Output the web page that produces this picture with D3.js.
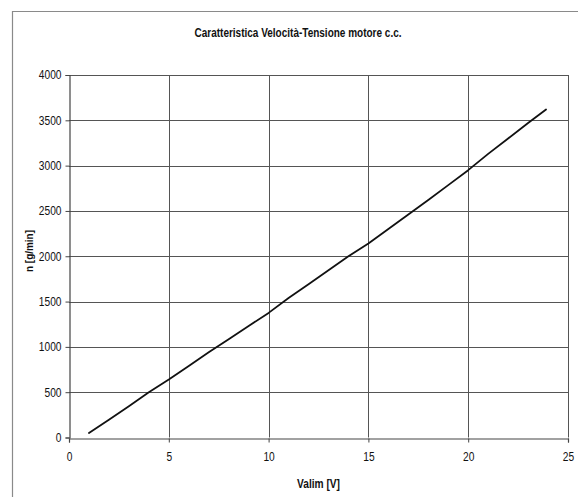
<!DOCTYPE html>
<html>
<head>
<meta charset="utf-8">
<script src="https://cdn.jsdelivr.net/npm/d3@7"></script>
<style>
  html, body { margin: 0; padding: 0; background: #fff; }
  svg { display: block; }
  text { font-family: "Liberation Sans", Arial, sans-serif; fill: #111; }
</style>
</head>
<body>
<div id="chart"></div>
<script>
// ---- data ----
const title = "Caratteristica Velocità-Tensione motore c.c.";
const xLabel = "Valim [V]";
const yLabel = "n [g/min]";
const voltage = [1, 2, 3, 4, 5, 6, 7, 8, 9, 10, 11, 12, 13, 14, 15, 16, 17, 18, 19, 20, 21, 22, 23, 23.9];
const speed   = [50, 195, 345, 500, 640, 790, 940, 1085, 1230, 1375, 1540, 1690, 1845, 2000, 2140, 2300, 2460, 2620, 2785, 2950, 3130, 3300, 3470, 3620];
const xTicks = [0, 5, 10, 15, 20, 25];
const yTicks = [0, 500, 1000, 1500, 2000, 2500, 3000, 3500, 4000];

const W = 578, H = 497;
const plot = { left: 69, right: 568, top: 75, bottom: 437.5 };

const svg = d3.select("#chart").append("svg").attr("width", W).attr("height", H);

// squeeze text horizontally (the reference font is condensed)
function squeeze(sel, factor) {
  sel.each(function () {
    const w = this.getComputedTextLength();
    this.setAttribute("textLength", (w * factor).toFixed(2));
    this.setAttribute("lengthAdjust", "spacingAndGlyphs");
  });
}

// outer chart frame
svg.append("path")
  .attr("d", `M12.5,${H + 2} L12.5,11.5 L${W + 2},11.5`)
  .attr("fill", "none").attr("stroke", "#8a8a8a").attr("stroke-width", 1.2);

const x = d3.scaleLinear().domain([0, 25]).range([plot.left, plot.right]);
const y = d3.scaleLinear().domain([0, 4000]).range([plot.bottom, plot.top]);

// gridlines
const grid = svg.append("g").attr("stroke", "#555").attr("stroke-width", 1);
grid.selectAll("line.h").data(yTicks.filter(d => d > 0)).join("line")
  .attr("x1", plot.left).attr("x2", plot.right)
  .attr("y1", d => Math.round(y(d)) + 0.5).attr("y2", d => Math.round(y(d)) + 0.5);
grid.selectAll("line.v").data(xTicks.filter(d => d > 0)).join("line")
  .attr("y1", plot.top).attr("y2", plot.bottom)
  .attr("x1", d => Math.round(x(d)) + 0.5).attr("x2", d => Math.round(x(d)) + 0.5);

// axes
const xAxis = d3.axisBottom(x).tickValues(xTicks).tickSize(4).tickPadding(10).tickFormat(d3.format("d"));
const yAxis = d3.axisLeft(y).tickValues(yTicks).tickSize(4).tickPadding(4).tickFormat(d3.format("d"));

const gx = svg.append("g").attr("transform", `translate(0,${Math.round(plot.bottom) + 0.5})`).call(xAxis);
const gy = svg.append("g").attr("transform", `translate(${Math.round(plot.left) + 0.5},0)`).call(yAxis);
[gx, gy].forEach(g => {
  g.select(".domain").attr("stroke", "#444").attr("stroke-width", 1.2);
  g.selectAll(".tick line").attr("stroke", "#444");
  g.selectAll("text").attr("font-size", 12).attr("fill", "#111")
    .attr("font-family", "'Liberation Sans', Arial, sans-serif");
  squeeze(g.selectAll("text"), 0.85);
});

// data line
const line = d3.line().x((d, i) => x(voltage[i])).y(d => y(d));
svg.append("path").datum(speed)
  .attr("d", line)
  .attr("fill", "none").attr("stroke", "#111").attr("stroke-width", 1.8)
  .attr("stroke-linejoin", "round").attr("stroke-linecap", "round");

// title and axis labels
svg.append("text").attr("x", 298).attr("y", 37)
  .attr("text-anchor", "middle").attr("font-weight", "bold").attr("font-size", 12.5)
  .attr("textLength", 207).attr("lengthAdjust", "spacingAndGlyphs")
  .text(title);
svg.append("text").attr("x", (plot.left + plot.right) / 2).attr("y", 488)
  .attr("text-anchor", "middle").attr("font-weight", "bold").attr("font-size", 12)
  .attr("textLength", 43).attr("lengthAdjust", "spacingAndGlyphs")
  .text(xLabel);
svg.append("text")
  .attr("transform", `translate(33,251) rotate(-90)`)
  .attr("text-anchor", "middle").attr("font-weight", "bold").attr("font-size", 10)
  .attr("textLength", 42).attr("lengthAdjust", "spacingAndGlyphs")
  .text(yLabel);
</script>
</body>
</html>
